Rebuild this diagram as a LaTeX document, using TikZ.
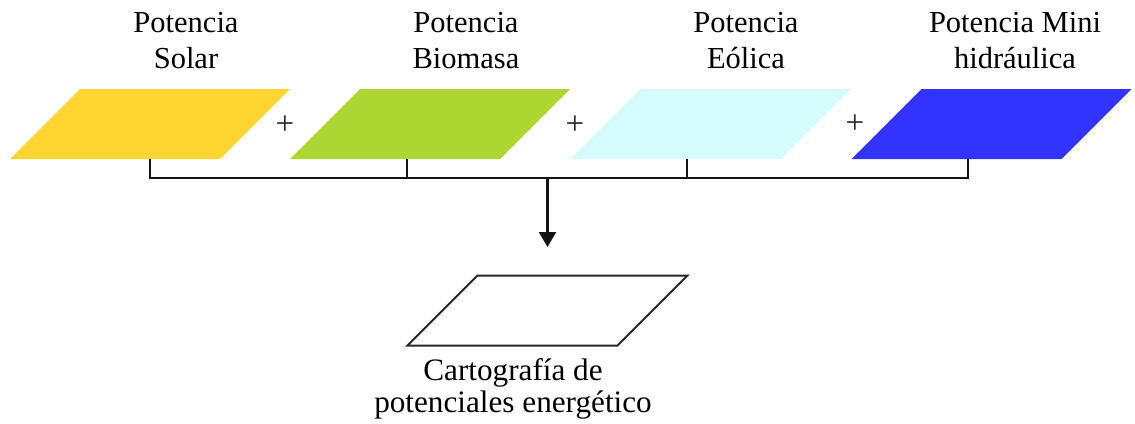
\documentclass[tikz,border=0pt]{standalone}
\usepackage{fontspec}
\setmainfont{Liberation Serif}
\usetikzlibrary{arrows.meta,calc}
\definecolor{solarc}{RGB}{255,213,50}
\definecolor{bioc}{RGB}{173,214,51}
\definecolor{eolc}{RGB}{213,252,252}
\definecolor{hidc}{RGB}{51,51,255}
\definecolor{linec}{RGB}{20,20,20}
\tikzset{
  box/.style={rectangle, minimum width=210pt, minimum height=70pt,
    inner sep=0pt, outer sep=0pt, draw=none},
  lbl/.style={anchor=base, inner sep=0pt, font=\fontsize{30.5}{36}\selectfont},
  blbl/.style={anchor=base, inner sep=0pt, font=\fontsize{31.2}{36}\selectfont},
  plus/.style={inner sep=0pt, text=black!85, font=\fontsize{33}{36}\selectfont},
  conn/.style={draw=linec, line width=2.2pt},
}
\newcommand\myparallelogram[2]{%
  \path[#2] ($(#1.south west)+(-35pt,0)$) -- ($(#1.north west)+(35pt,0)$)
    -- ($(#1.north east)+(35pt,0)$) -- ($(#1.south east)+(-35pt,0)$) -- cycle;}
\begin{document}
\begin{tikzpicture}[x=1pt,y=-1pt]
\useasboundingbox (0,0) rectangle (1135,423);
% shapes
\node[box] (solar) at (150,124) {};
\node[box] (bio) at (430,124) {};
\node[box] (eol) at (710.5,124) {};
\node[box] (hid) at (991.5,124) {};
\node[box] (out) at (547.5,310.5) {};
\myparallelogram{solar}{fill=solarc}
\myparallelogram{bio}{fill=bioc}
\myparallelogram{eol}{fill=eolc}
\myparallelogram{hid}{fill=hidc}
\myparallelogram{out}{draw=black!85, line width=2pt, fill=white}
% labels
\node[lbl] (t1a) at (186,32) {Potencia};
\node[lbl] (t1b) at (186,68) {Solar};
\node[lbl] (t2a) at (466,32) {Potencia};
\node[lbl] (t2b) at (466,68) {Biomasa};
\node[lbl] (t3a) at (746,32) {Potencia};
\node[lbl] (t3b) at (746,68) {Eólica};
\node[lbl] (t4a) at (1015,32) {Potencia Mini};
\node[lbl] (t4b) at (1015,68) {hidráulica};
\node[blbl] (t5a) at (513,380) {Cartografía de};
\node[blbl] (t5b) at (513,412) {potenciales energético};
% plus signs
\node[plus] (p1) at (285,125) {+};
\node[plus] (p2) at (575,125) {+};
\node[plus] (p3) at (855,124) {+};
% connectors
\coordinate (c1) at (solar.south);
\coordinate (c2) at ($(bio.south)+(-23pt,0)$);
\coordinate (c3) at ($(eol.south)+(-23.5pt,0)$);
\coordinate (c4) at ($(hid.south)+(-23.5pt,0)$);
\coordinate (b1) at (c1 |- 0,178);
\coordinate (b4) at (c4 |- 0,178);
\coordinate (bm) at (out |- 0,178);
\coordinate (aend) at (out |- 0,247);
\draw[conn] (c1) -- (b1) -- (b4) -- (c4);
\draw[conn] (c2) -- (c2 |- b1);
\draw[conn] (c3) -- (c3 |- b1);
\draw[conn, -{Triangle[width=17pt,length=15pt]}] (bm) -- (aend);
\end{tikzpicture}
\end{document}
